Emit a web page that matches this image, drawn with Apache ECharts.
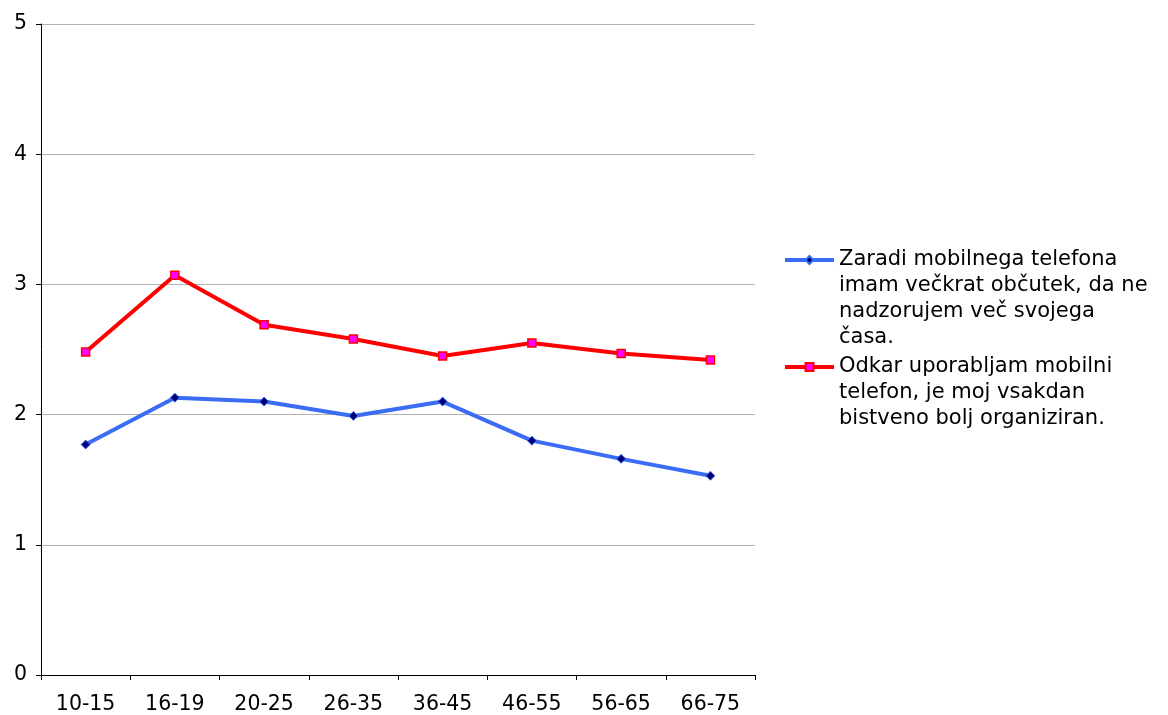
<!DOCTYPE html>
<html>
<head>
<meta charset="utf-8">
<script src="https://cdn.jsdelivr.net/npm/echarts@6/dist/echarts.min.js"></script>
<style>
  html, body { margin: 0; padding: 0; background: #fff; }
  #chart { width: 1168px; height: 715px; }
</style>
</head>
<body>
<div id="chart"></div>
<script>
const categories = ['10-15', '16-19', '20-25', '26-35', '36-45', '46-55', '56-65', '66-75'];
const controlValues = [1.77, 2.13, 2.10, 1.99, 2.10, 1.80, 1.66, 1.53];
const organisedValues = [2.48, 3.07, 2.69, 2.58, 2.45, 2.55, 2.47, 2.42];
const controlName = 'Zaradi mobilnega telefona\nimam večkrat občutek, da ne\nnadzorujem več svojega\nčasa.';
const organisedName = 'Odkar uporabljam mobilni\ntelefon, je moj vsakdan\nbistveno bolj organiziran.';

const font = 'DejaVu Sans, Verdana, sans-serif';
const chart = echarts.init(document.getElementById('chart'));

// legend text is centred on its icon; blank lines on top put the icon on the first line
const topAligned = (name) => {
  const n = name.split('\n').length;
  return '\n'.repeat(n - 1) + name;
};

const legendBase = {
  orient: 'vertical',
  left: 783,
  itemWidth: 49,
  itemHeight: 10,
  itemGap: 0,
  padding: 0,
  lineStyle: { width: 4 },
  formatter: topAligned,
  textStyle: { color: '#000', fontFamily: font, fontSize: 21, lineHeight: 26 }
};

chart.setOption({
  backgroundColor: '#fff',
  animation: false,
  grid: { left: 41, right: 413, top: 24, bottom: 39 },
  legend: [
    Object.assign({}, legendBase, { top: 169, data: [controlName] }),
    Object.assign({}, legendBase, { top: 302, data: [organisedName] })
  ],
  xAxis: {
    type: 'category',
    data: categories,
    boundaryGap: true,
    axisLine: { lineStyle: { color: '#000', width: 1 } },
    axisTick: { show: true, length: 5, lineStyle: { color: '#000' } },
    axisLabel: { color: '#000', fontFamily: font, fontSize: 20.5, margin: 19 },
    splitLine: { show: false }
  },
  yAxis: {
    type: 'value',
    min: 0,
    max: 5,
    interval: 1,
    axisLine: { show: true, lineStyle: { color: '#000', width: 1 } },
    axisTick: { show: true, length: 5, lineStyle: { color: '#000' } },
    axisLabel: { color: '#000', fontFamily: font, fontSize: 20.5, margin: 14 },
    splitLine: { show: true, lineStyle: { color: '#b3b3b3', width: 1 } }
  },
  series: [
    {
      name: controlName,
      type: 'line',
      data: controlValues,
      symbol: 'diamond',
      symbolSize: 9,
      lineStyle: { color: '#3a6cf4', width: 4 },
      itemStyle: { color: '#00007a', borderColor: '#3a6cf4', borderWidth: 1 }
    },
    {
      name: organisedName,
      type: 'line',
      data: organisedValues,
      symbol: 'rect',
      symbolSize: 8,
      lineStyle: { color: '#ff0000', width: 4 },
      itemStyle: { color: '#ff00ff', borderColor: '#ff0000', borderWidth: 1.5 }
    }
  ]
});

window.addEventListener('resize', () => chart.resize());
</script>
</body>
</html>
